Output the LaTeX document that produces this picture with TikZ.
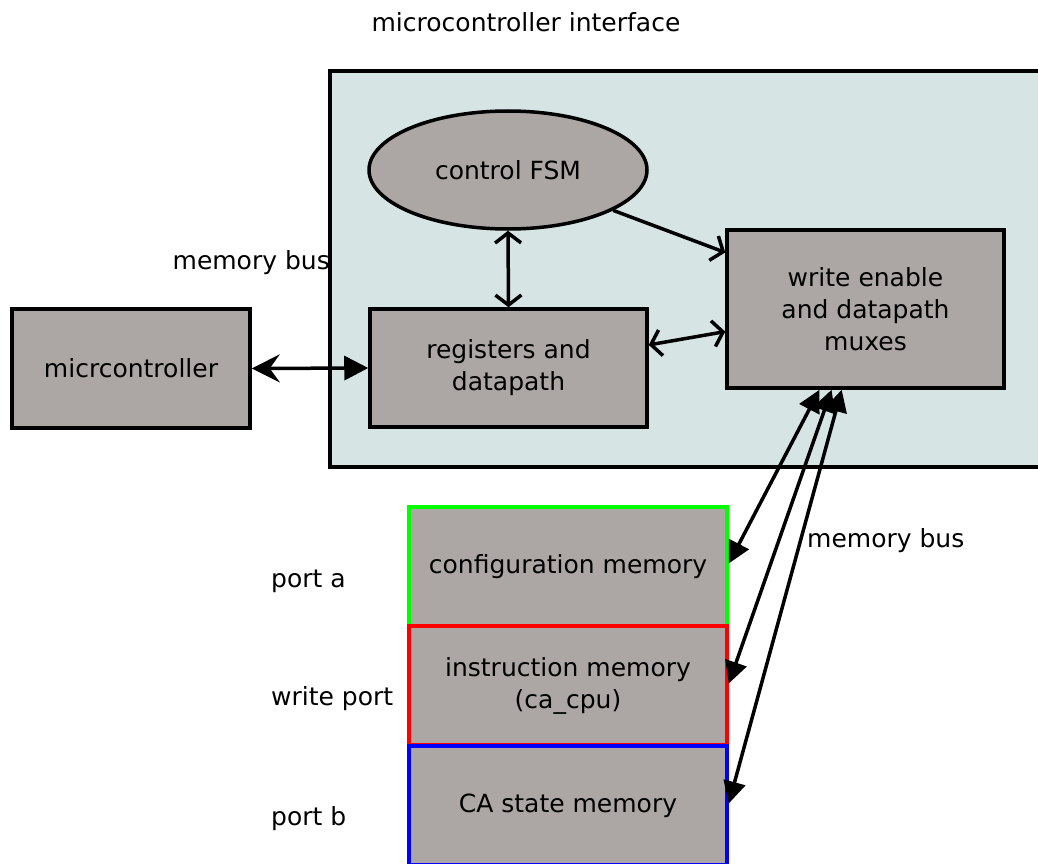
\documentclass[tikz,border=0pt]{standalone}
\usepackage{fontspec}
\setmainfont{DejaVu Sans}
\usetikzlibrary{arrows.meta,shapes.geometric,calc}
\definecolor{panel}{HTML}{D6E4E4}
\definecolor{blockfill}{HTML}{ACA6A5}
\tikzset{
  txt/.style={font=\fontsize{25}{32}\selectfont},
  block/.style={draw=black, line width=3.5pt, fill=blockfill, align=center,
    inner sep=0pt, txt},
  memblock/.style={draw, line width=3.5pt, fill=blockfill, align=center,
    inner sep=0pt, minimum width=318pt, minimum height=119pt, txt},
  label/.style={inner sep=0pt, txt},
  wire/.style={line width=3.5pt},
  barb/.tip={Straight Barb[length=10pt,width=26pt,line width=3.5pt]},
  opentip/.style={wire, barb-barb},
  halfopen/.style={wire, -barb},
  solidtip/.style={wire, {Triangle[length=22pt,width=22pt]}-{Triangle[length=22pt,width=22pt]}},
}
\begin{document}
\begin{tikzpicture}[x=1pt,y=-1pt]
\useasboundingbox (0,0) rectangle (1038,864);

% title and container panel
\node[label] (title) at (526,22) {microcontroller interface};
\draw[line width=3.5pt, fill=panel] (330,71) rectangle (1060,467);

% blocks inside the interface
\node[block, ellipse, minimum width=278pt, minimum height=118pt] (fsm) at (508,170) {control FSM};
\node[block, minimum width=277pt, minimum height=158pt] (we) at (865.5,309) {write enable\\and datapath\\muxes};
\node[block, minimum width=277pt, minimum height=118pt] (regs) at (508.5,368) {registers and\\datapath};

% external microcontroller
\node[block, minimum width=238pt, minimum height=119pt] (mcu) at (131,368.5) {micrcontroller};
\node[label, anchor=base east] (busl) at (330,269) {memory bus};

% memories
\node[memblock, draw=green] (cfg) at (568,566.5) {configuration memory};
\node[memblock, draw=red] (ins) at (568,685.5) {instruction memory\\(ca\_cpu)};
\node[memblock, draw=blue] (cas) at (568,805.5) {CA state memory};

\node[label, anchor=base west] (pa) at (271,587) {port a};
\node[label, anchor=base west] (pw) at (271,705) {write port};
\node[label, anchor=base west] (pb) at (271,825) {port b};
\node[label, anchor=base west] (busr) at (807,547) {memory bus};

% connectors
\draw[opentip] (fsm.south) -- (regs.north);
\draw[halfopen] (fsm.-21) -- ($(we.north west)!0.15!(we.south west)$);
\draw[opentip] ($(regs.north east)!0.31!(regs.south east)$) -- ($(we.north west)!0.64!(we.south west)$);
\draw[wire, {Stealth[length=28pt,width=28pt,inset=10pt]}-{Triangle[length=24pt,width=24pt]}] (mcu.east) -- (regs.west);

\draw[solidtip] ($(we.south west)!0.336!(we.south east)$) -- ($(cfg.east)+(0,-3)$);
\draw[solidtip] ($(we.south west)!0.379!(we.south east)$) -- ($(ins.east)+(0,-2)$);
\draw[solidtip] ($(we.south west)!0.415!(we.south east)$) -- ($(cas.east)+(0,-2)$);
\end{tikzpicture}
\end{document}
